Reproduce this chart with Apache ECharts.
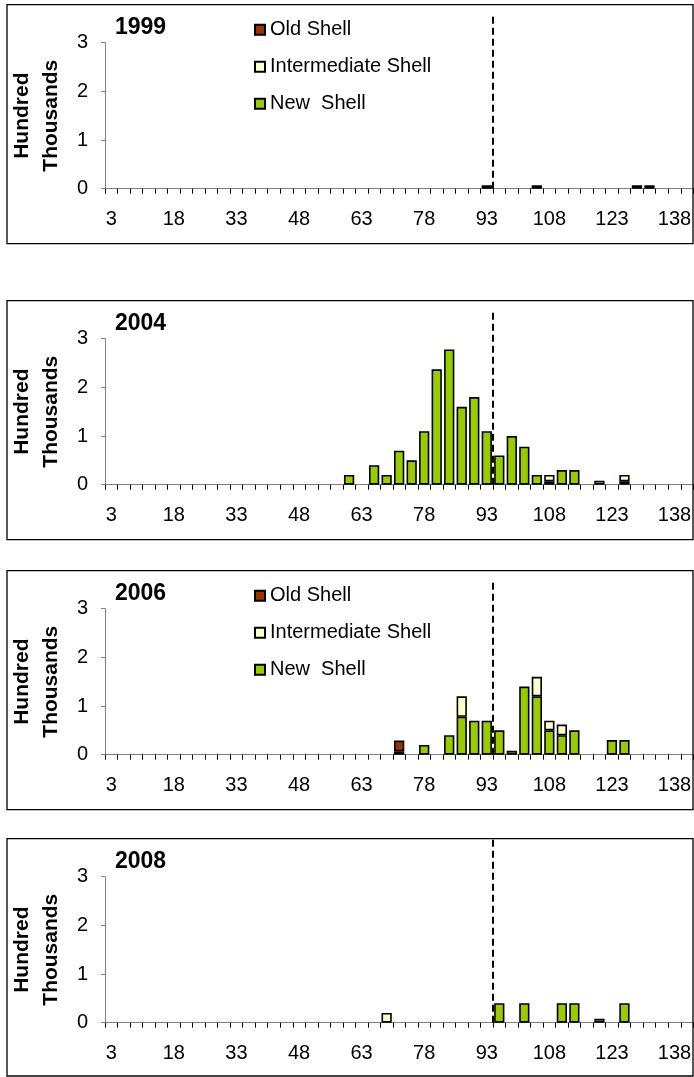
<!DOCTYPE html>
<html><head><meta charset="utf-8">
<script src="https://cdn.jsdelivr.net/npm/echarts@6/dist/echarts.min.js"></script>
<style>html,body{margin:0;padding:0;background:#fff}#c{width:694px;height:1077px}</style>
</head><body><div id="c"></div>
<script>
// Carapace size classes (mm), 3 mm bins
const sizes = [3,6,9,12,15,18,21,24,27,30,33,36,39,42,45,48,51,54,57,60,63,66,69,72,75,78,81,84,87,90,93,96,99,102,105,108,111,114,117,120,123,126,129,132,135,138,141];
const years = ['1999','2004','2006','2008'];
const yTicks = [0,1,2,3];
// Abundance in hundred thousands, one value per size bin
const new1999 = [0,0,0,0,0,0,0,0,0,0, 0,0,0,0,0,0,0,0,0,0, 0,0,0,0,0,0,0,0,0,0, 0.07,0,0,0,0.07,0,0,0,0,0, 0,0,0.07,0.07,0,0,0];
const int1999 = [0,0,0,0,0,0,0,0,0,0, 0,0,0,0,0,0,0,0,0,0, 0,0,0,0,0,0,0,0,0,0, 0,0,0,0,0,0,0,0,0,0, 0,0,0,0,0,0,0];
const old1999 = [0,0,0,0,0,0,0,0,0,0, 0,0,0,0,0,0,0,0,0,0, 0,0,0,0,0,0,0,0,0,0, 0,0,0,0,0,0,0,0,0,0, 0,0,0,0,0,0,0];

const new2004 = [0,0,0,0,0,0,0,0,0,0, 0,0,0,0,0,0,0,0,0,0.2, 0,0.4,0.2,0.7,0.5,1.1,2.37,2.78,1.6,1.8, 1.1,0.6,1.0,0.78,0.2,0.07,0.3,0.3,0,0, 0,0.07,0,0,0,0,0];
const int2004 = [0,0,0,0,0,0,0,0,0,0, 0,0,0,0,0,0,0,0,0,0, 0,0,0,0,0,0,0,0,0,0, 0,0,0,0,0,0.13,0,0,0,0.08, 0,0.13,0,0,0,0,0];
const old2004 = [0,0,0,0,0,0,0,0,0,0, 0,0,0,0,0,0,0,0,0,0, 0,0,0,0,0,0,0,0,0,0, 0,0,0,0,0,0,0,0,0,0, 0,0,0,0,0,0,0];

const new2006 = [0,0,0,0,0,0,0,0,0,0, 0,0,0,0,0,0,0,0,0,0, 0,0,0,0.07,0,0.2,0,0.4,0.78,0.7, 0.7,0.5,0.08,1.4,1.2,0.5,0.4,0.5,0,0, 0.3,0.3,0,0,0,0,0];
const int2006 = [0,0,0,0,0,0,0,0,0,0, 0,0,0,0,0,0,0,0,0,0, 0,0,0,0,0,0,0,0,0.42,0, 0,0,0,0,0.4,0.2,0.22,0,0,0, 0,0,0,0,0,0,0];
const old2006 = [0,0,0,0,0,0,0,0,0,0, 0,0,0,0,0,0,0,0,0,0, 0,0,0,0.22,0,0,0,0,0,0, 0,0,0,0,0,0,0,0,0,0, 0,0,0,0,0,0,0];

const new2008 = [0,0,0,0,0,0,0,0,0,0, 0,0,0,0,0,0,0,0,0,0, 0,0,0,0,0,0,0,0,0,0, 0,0.4,0,0.4,0,0,0.4,0.4,0,0.08, 0,0.4,0,0,0,0,0];
const int2008 = [0,0,0,0,0,0,0,0,0,0, 0,0,0,0,0,0,0,0,0,0, 0,0,0.2,0,0,0,0,0,0,0, 0,0,0,0,0,0,0,0,0,0, 0,0,0,0,0,0,0];
const old2008 = [0,0,0,0,0,0,0,0,0,0, 0,0,0,0,0,0,0,0,0,0, 0,0,0,0,0,0,0,0,0,0, 0,0,0,0,0,0,0,0,0,0, 0,0,0,0,0,0,0];

// Dashed reference line: boundary between the 93 and 96 mm bins
const dashedAt = 94.5;
const dashTop = [3.56, 3.56, 3.56, 3.78];

const newShell = [new1999, new2004, new2006, new2008];
const intShell = [int1999, int2004, int2006, int2008];
const oldShell = [old1999, old2004, old2006, old2008];
const legendPanels = [0, 2];

const FONT = '"Liberation Sans", Arial, sans-serif';
const panelTop = [4.7, 300.7, 570.7, 838.7];
const GL = 99.3, GW = 596;

const names = {old: 'Old Shell', int: 'Intermediate Shell', nw: 'New  Shell'};
const colors = {old: '#993300', int: '#FFFFCC', nw: '#99CC00'};

const grid = [], xAxis = [], yAxis = [], series = [], title = [], legend = [], graphic = [];
years.forEach((yr, i) => {
  const T = panelTop[i];
  grid.push({left: GL, top: T + 38, width: GW, height: 146});
  xAxis.push({
    type: 'category', gridIndex: i, data: sizes.map(String), boundaryGap: true,
    axisLine: {lineStyle: {color: '#808080', width: 1}},
    axisTick: {show: true, interval: 0, length: 5, lineStyle: {color: '#000'}},
    axisLabel: {interval: 4, fontSize: 20, color: '#000', margin: 21, fontFamily: FONT}
  });
  yAxis.push({
    type: 'value', gridIndex: i, min: 0, max: 3, interval: 1,
    splitLine: {show: false},
    axisLine: {show: true, lineStyle: {color: '#808080', width: 1}},
    axisTick: {show: true, length: 4, lineStyle: {color: '#808080'}},
    axisLabel: {fontSize: 20, color: '#000', margin: 17, fontFamily: FONT,
      formatter: v => yTicks.includes(v) ? String(v) : ''},
    name: 'Hundred\nThousands', nameLocation: 'middle', nameGap: 30, nameRotate: 90,
    nameTextStyle: {fontWeight: 'bold', fontSize: 21, lineHeight: 29, color: '#000', fontFamily: FONT}
  });
  title.push({text: yr, left: 115, top: T + 11, padding: 0,
    textStyle: {fontSize: 23, fontWeight: 'bold', color: '#000', fontFamily: FONT}});
  graphic.push({type: 'rect', z: 100, silent: true,
    shape: {x: 7, y: T, width: 686, height: Math.min(239, 1076 - T)},
    style: {fill: 'none', stroke: '#000', lineWidth: 1.3}});
  const parts = [['nw', newShell[i]], ['int', intShell[i]], ['old', oldShell[i]]];
  parts.forEach(([k, arr]) => {
    series.push({
      type: 'bar', name: names[k], xAxisIndex: i, yAxisIndex: i, stack: 'p' + i,
      barCategoryGap: '18%',
      data: arr.map(v => v === 0 ? null : v),
      itemStyle: {color: colors[k], borderColor: '#000', borderWidth: 1.6},
      emphasis: {disabled: true}, animation: false
    });
  });
});
// hidden value axes for the dashed line (same extent as the bins)
years.forEach((yr, i) => {
  xAxis.push({type: 'value', gridIndex: i, show: false,
    min: sizes[0] - 1.5, max: sizes[sizes.length - 1] + 1.5});
  series.push({
    type: 'line', xAxisIndex: 4 + i, yAxisIndex: i, clip: false, symbol: 'none',
    data: [[dashedAt, 0], [dashedAt, dashTop[i]]],
    lineStyle: {color: '#000', width: 2, type: [7, 4]}, animation: false, silent: true
  });
});
legendPanels.forEach(i => {
  legend.push({
    orient: 'vertical', left: 249, top: panelTop[i] + 10, itemWidth: 10, itemHeight: 10,
    itemGap: 17, icon: 'rect', selectedMode: false,
    data: [names.old, names.int, names.nw],
    textStyle: {fontSize: 20, color: '#000', fontFamily: FONT}
  });
});

const chart = echarts.init(document.getElementById('c'), null, {renderer: 'canvas'});
chart.setOption({animation: false, backgroundColor: '#fff', title, legend, grid, xAxis, yAxis, series, graphic});
</script></body></html>
